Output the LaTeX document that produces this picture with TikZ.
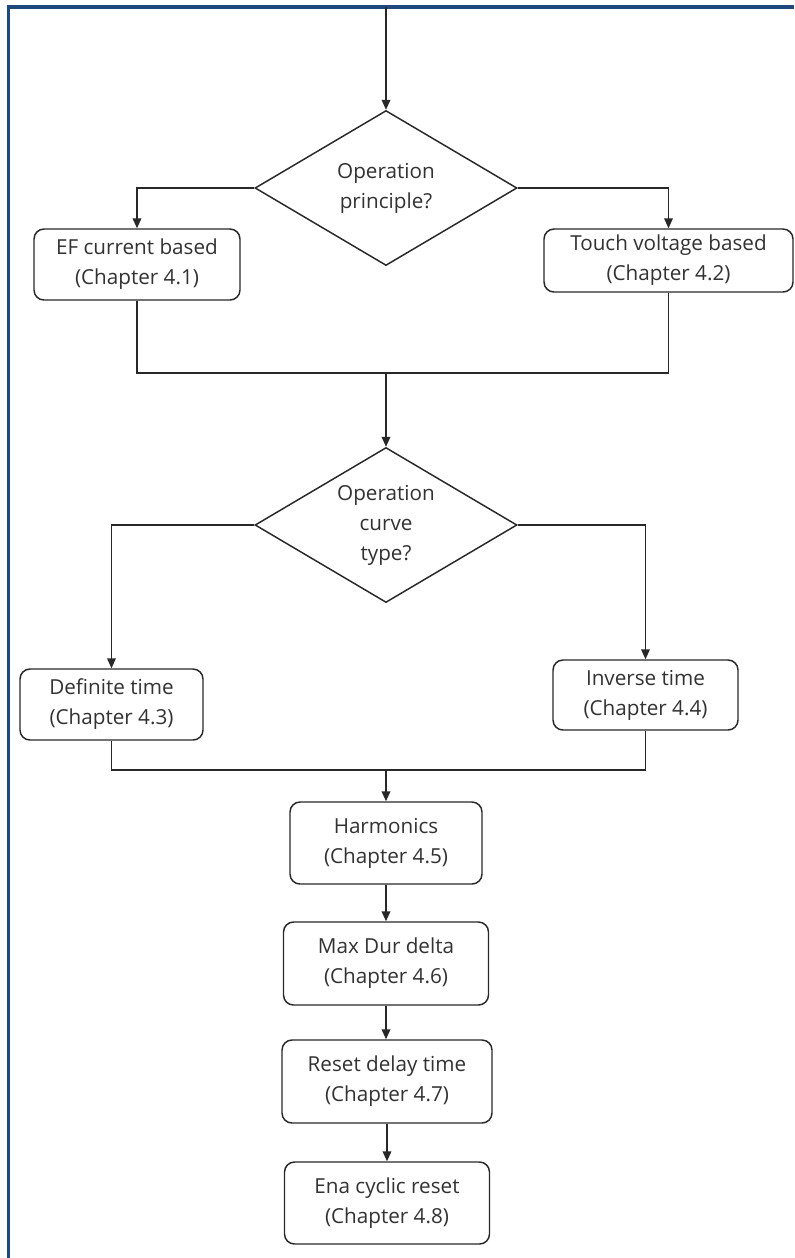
\documentclass[tikz,border=0pt]{standalone}
\usepackage{fontspec}
\setmainfont{Open Sans}
\usetikzlibrary{shapes.geometric,arrows.meta}
\definecolor{framecol}{RGB}{31,73,125}
\definecolor{inkcol}{RGB}{40,40,40}
\definecolor{txtcol}{RGB}{50,50,50}
\begin{document}
\begin{tikzpicture}[x=0.75pt,y=-0.75pt,
  every node/.style={font=\fontsize{15.5pt}{22.5pt}\selectfont, text=txtcol, align=center},
  proc/.style={draw=inkcol, line width=1.1pt, rounded corners=7.5pt, inner sep=0pt},
  decide/.style={draw=inkcol, line width=1.1pt, diamond, aspect=1.69, inner sep=0pt,
                 minimum width=262*0.75pt, minimum height=155*0.75pt},
  link/.style={draw=inkcol, line width=1.1pt},
  arr/.style={link, -{Triangle[length=7.5pt,width=6.5pt]}}]
\useasboundingbox (0,0) rectangle (794,1258);
\fill[white] (0,0) rectangle (794,1258);
% page frame (left and top edges)
\draw[framecol, line width=2.7pt] (8.5,1258) -- (8.5,7) -- (794,7);

% decisions
\node[decide] (d1) at (386,188) {Operation\\principle?};
\node[decide] (d2) at (386,525) {Operation\\curve\\type?};

% process boxes
\node[proc, minimum width=206*0.75pt, minimum height=71*0.75pt] (ef) at (137,264.5) {EF current based\\(Chapter 4.1)};
\node[proc, minimum width=249*0.75pt, minimum height=63*0.75pt] (tv) at (668.5,260.5) {Touch voltage based\\(Chapter 4.2)};
\node[proc, minimum width=183*0.75pt, minimum height=71*0.75pt] (dt) at (111.5,704.5) {Definite time\\(Chapter 4.3)};
\node[proc, minimum width=185*0.75pt, minimum height=70*0.75pt] (it) at (645.5,695) {Inverse time\\(Chapter 4.4)};
\node[proc, minimum width=192*0.75pt, minimum height=82*0.75pt] (hm) at (386,843) {Harmonics\\(Chapter 4.5)};
\node[proc, minimum width=205*0.75pt, minimum height=83*0.75pt] (md) at (386,963.5) {Max Dur delta\\(Chapter 4.6)};
\node[proc, minimum width=210*0.75pt, minimum height=83*0.75pt] (rd) at (387,1081.5) {Reset delay time\\(Chapter 4.7)};
\node[proc, minimum width=205*0.75pt, minimum height=82*0.75pt] (ec) at (387,1203) {Ena cyclic reset\\(Chapter 4.8)};

% junction points
\coordinate (entry) at (386,7);
\coordinate (m1) at (386,373);
\coordinate (m2) at (386,770);

% connectors
\draw[arr] (entry) -- (d1.north);
\draw[arr] (d1.west) -| (ef.north);
\draw[arr] (d1.east) -| (tv.north);
\draw[link] (ef.south) |- (m1) -| (tv.south);
\draw[arr] (m1) -- (d2.north);
\draw[arr] (d2.west) -| (dt.north);
\draw[arr] (d2.east) -| (it.north);
\draw[link] (dt.south) |- (m2) -| (it.south);
\draw[arr] (m2) -- (m2 |- hm.north);
\draw[arr] (hm.south) -- (hm.south |- md.north);
\draw[arr] (md.south) -- (md.south |- rd.north);
\draw[arr] (rd.south) -- (rd.south |- ec.north);
\end{tikzpicture}
\end{document}
